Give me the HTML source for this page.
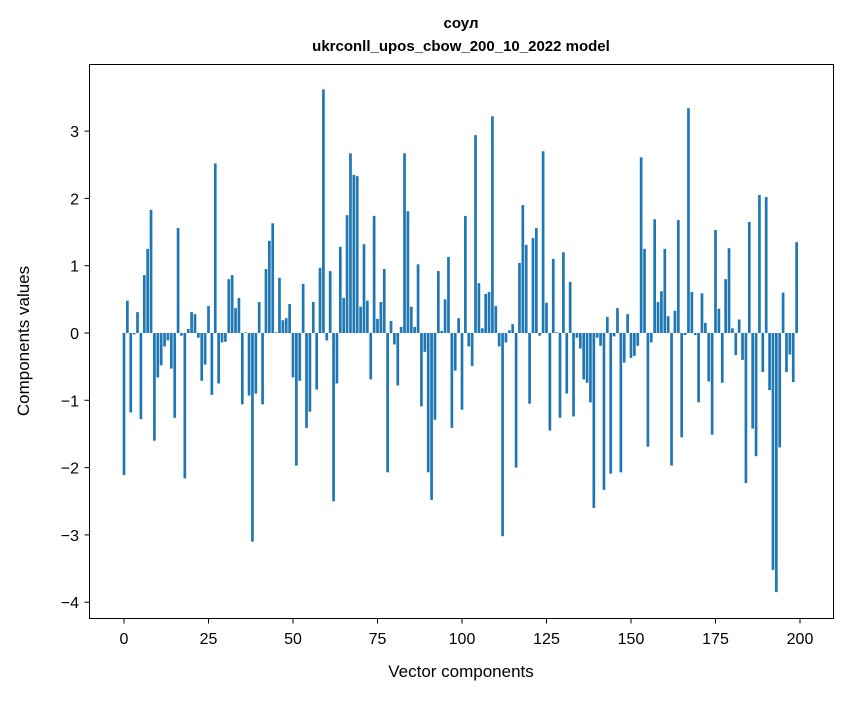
<!DOCTYPE html>
<html><head><meta charset="utf-8"><style>
body{margin:0;background:#fff;}
svg text{font-family:"Liberation Sans","DejaVu Sans",sans-serif;}
</style></head><body>
<svg id="s" width="847" height="696" viewBox="0 0 847 696" xmlns="http://www.w3.org/2000/svg">
<rect width="847" height="696" fill="#fff"/>
<text x="461" y="28" text-anchor="middle" font-size="15" font-weight="bold">соул</text>
<text x="461" y="51" text-anchor="middle" font-size="15" font-weight="bold">ukrconll_upos_cbow_200_10_2022 model</text>
<g id="bars" fill="#1f77b4"></g>
<rect x="89.5" y="64.5" width="744" height="554" fill="none" stroke="#000" stroke-width="1"/>
<g id="ticks" font-size="16"></g>
<text x="461" y="677" text-anchor="middle" font-size="17">Vector components</text>
<text transform="translate(29,341) rotate(-90)" text-anchor="middle" font-size="17">Components values</text>
</svg>
<script>
var v=[-2.11,0.48,-1.18,-0.02,0.31,-1.28,0.86,1.25,1.83,-1.6,-0.66,-0.48,-0.2,-0.11,-0.53,-1.26,1.56,-0.04,-2.16,0.06,
0.31,0.28,-0.07,-0.71,-0.47,0.4,-0.92,2.52,-0.75,-0.14,-0.13,0.8,0.86,0.37,0.52,-1.06,0.01,-0.93,-3.1,-0.9,
0.46,-1.06,0.95,1.37,1.63,0.01,0.82,0.19,0.22,0.43,-0.66,-1.97,-0.71,0.73,-1.41,-1.17,0.46,-0.84,0.97,3.62,
-0.11,0.92,-2.5,-0.75,1.28,0.52,1.75,2.67,2.35,2.33,0.39,1.32,0.48,-0.69,1.74,0.21,0.46,0.95,-2.07,0.18,
-0.17,-0.78,0.09,2.67,1.81,0.39,0.09,1.02,-1.09,-0.28,-2.07,-2.48,-1.29,0.92,0.03,0.5,1.13,-1.41,-0.56,0.22,
-1.14,1.74,-0.2,-0.49,2.94,0.74,0.07,0.58,0.61,3.22,0.4,-0.2,-3.02,-0.14,0.04,0.13,-2.0,1.04,1.9,1.31,
-1.05,1.41,1.56,-0.04,2.7,0.45,-1.45,1.1,0.01,-1.26,1.2,-0.9,0.76,-1.24,-0.07,-0.23,-0.69,-0.74,-1.03,-2.6,
-0.07,-0.19,-2.33,0.24,-2.09,-0.05,0.37,-2.07,-0.44,0.28,-0.37,-0.34,-0.19,2.61,1.25,-1.69,-0.14,1.69,0.46,0.62,
1.25,0.25,-1.97,0.33,1.68,-1.55,-0.03,3.34,0.61,-0.03,-1.03,0.59,0.15,-0.72,-1.51,1.53,0.36,-0.74,0.8,1.26,
0.07,-0.33,0.2,-0.4,-2.23,1.65,-1.42,-1.83,2.05,-0.58,2.02,-0.85,-3.52,-3.85,-1.7,0.6,-0.58,-0.32,-0.73,1.35];
var NS="http://www.w3.org/2000/svg",b=document.getElementById("bars"),t=document.getElementById("ticks");
function el(n,a,p){var e=document.createElementNS(NS,n);for(var k in a)e.setAttribute(k,a[k]);p.appendChild(e);return e;}
var X=function(i){return 124+3.38*i;},Y=function(y){return 333-67.3*y;};
v.forEach(function(y,i){var y0=Y(0),y1=Y(y);el("rect",{x:X(i)-1.35,y:Math.min(y0,y1),width:2.7,height:Math.abs(y1-y0)},b);});
for(var k=0;k<=200;k+=25){var x=X(k);el("line",{x1:x,x2:x,y1:618.5,y2:623.5,stroke:"#000"},t);var s=el("text",{x:x,y:644,"text-anchor":"middle"},t);s.textContent=k;}
for(var k=-4;k<=3;k++){var y=Y(k);el("line",{x1:84.5,x2:89.5,y1:y,y2:y,stroke:"#000"},t);var s=el("text",{x:79,y:y+6,"text-anchor":"end"},t);s.textContent=(k<0?"\u2212"+(-k):k);}
</script>
</body></html>
